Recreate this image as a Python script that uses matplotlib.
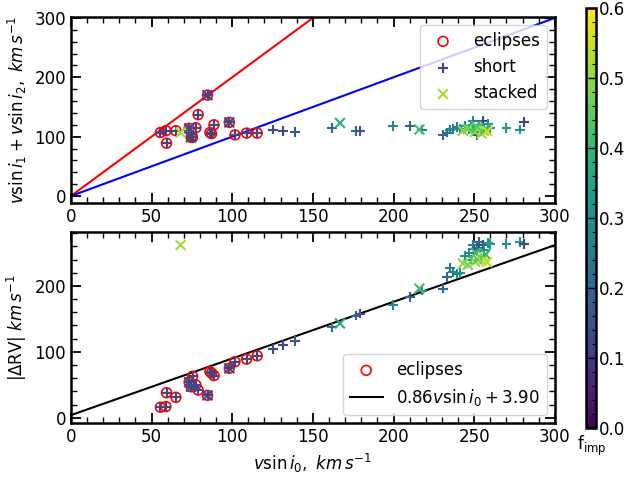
import matplotlib
matplotlib.use("Agg")
from matplotlib import pyplot as plt
from matplotlib.ticker import MultipleLocator
import numpy as np

# eclipsing systems: vsini0, vsini1+vsini2, |dRV|
ecl_v0 = [55.5, 58.9, 59.3, 65.1, 73.3, 74.5, 75.4, 77.5, 78.9, 84.7, 86.2, 87.2, 88.7, 98.2, 101.7, 108.9, 115.5]
ecl_sum = [107, 110, 89, 110, 114, 99, 99, 115, 137, 170, 107, 105, 120, 124, 103, 106, 106]
ecl_drv = [16, 17, 38, 31, 54, 47, 63, 50, 42, 34, 70, 68, 64, 75, 85, 89, 94]

# short-exposure spectra
short_v0 = [55.5, 58.9, 59.3, 65.1, 73.3, 74.5, 75.4, 77.5, 78.9, 84.7, 86.2, 87.2, 88.7, 98.2, 101.7, 108.9, 115.5,
            125.4, 131.6, 139.0, 162.0, 176.5, 179.0, 199.8, 210.2, 217.4,
            230.4, 233.0, 235.0, 237.0, 239.5, 241.0, 244.0, 247.0, 248.0, 249.4, 250.0, 251.5, 252.0, 253.0,
            255.2, 256.0, 258.7, 260.0, 270.0, 278.4, 280.8]
short_sum = [107, 110, 89, 110, 114, 99, 99, 115, 137, 170, 107, 105, 120, 124, 103, 106, 106,
             112, 110, 108, 115, 110, 110, 118, 118, 112,
             103, 107, 112, 113, 116, 113, 118, 113, 116, 127, 110, 102, 108, 120,
             127, 112, 122, 115, 114, 112, 125]
short_drv = [16, 17, 38, 31, 54, 47, 63, 50, 42, 34, 70, 68, 64, 75, 85, 89, 94,
             104, 110, 116, 137, 155, 158, 171, 183, 193,
             196, 213, 227, 221, 218, 220, 245, 250, 240, 262, 256, 258, 253, 266,
             262, 255, 265, 263, 264, 267, 264]
short_f = [0.12, 0.12, 0.12, 0.12, 0.12, 0.12, 0.12, 0.12, 0.12, 0.12, 0.12, 0.12, 0.12, 0.12, 0.12, 0.12, 0.12,
           0.13, 0.13, 0.15, 0.22, 0.2, 0.15, 0.27, 0.18, 0.27,
           0.2, 0.22, 0.25, 0.28, 0.25, 0.3, 0.3, 0.3, 0.32, 0.27, 0.22, 0.15, 0.25, 0.2,
           0.12, 0.3, 0.3, 0.33, 0.3, 0.3, 0.12]

# stacked spectra
stack_v0 = [68.0, 73.3, 74.5, 84.7, 98.2, 166.8, 216.0,
            243.0, 246.0, 250.5, 251.0, 252.0, 254.6, 256.0, 257.0, 258.0]
stack_sum = [107, 114, 99, 170, 124, 123, 112,
             110, 113, 108, 118, 115, 105, 110, 113, 109]
stack_drv = [262, 54, 47, 34, 75, 143, 196,
             234, 232, 237, 250, 240, 239, 244, 248, 236]
stack_f = [0.52, 0.12, 0.12, 0.12, 0.12, 0.38, 0.42,
           0.5, 0.48, 0.5, 0.42, 0.45, 0.52, 0.5, 0.4, 0.55]

# linear fit of |dRV| against vsini0
fit_a = 0.86
fit_b = 3.90

plt.rcParams['font.size'] = 12
plt.rcParams['mathtext.fontset'] = 'dejavusans'

fig = plt.figure(figsize=(6.27, 4.78), dpi=100)
ax1 = fig.add_axes([0.113, 0.575, 0.772, 0.39])
ax2 = fig.add_axes([0.113, 0.115, 0.772, 0.40])
cax = fig.add_axes([0.935, 0.105, 0.016, 0.878])

cmap = plt.get_cmap('viridis')
vmin, vmax = 0.0, 0.6

xx = np.array([0, 300])
ax1.plot([0, 150], [0, 300], color='red', lw=1.5, zorder=1)
ax1.plot(xx, xx, color='blue', lw=1.5, zorder=1)
ax1.scatter(ecl_v0, ecl_sum, s=50, facecolors='none', edgecolors='red', lw=1.2, label='eclipses', zorder=3)
ax1.scatter(short_v0, short_sum, s=50, marker='+', c=short_f, cmap=cmap, vmin=vmin, vmax=vmax, lw=1.5,
            label='short', zorder=4)
ax1.scatter(stack_v0, stack_sum, s=50, marker='x', c=stack_f, cmap=cmap, vmin=vmin, vmax=vmax, lw=1.5,
            label='stacked', zorder=4)
ax1.set_xlim(0, 300)
ax1.set_ylim(-12, 302)
ax1.set_ylabel(r'$v\sin i_1 + v\sin i_2,\ km\,s^{-1}$')
ax1.yaxis.set_major_locator(MultipleLocator(100))
ax1.yaxis.set_minor_locator(MultipleLocator(20))
ax1.legend(loc='upper right', scatterpoints=1, fontsize=12)

ax2.plot(xx, fit_a * xx + fit_b, color='black', lw=1.5, zorder=1,
         label=r'$%.2f v\sin i_0 + %.2f$' % (fit_a, fit_b))
ax2.scatter(ecl_v0, ecl_drv, s=50, facecolors='none', edgecolors='red', lw=1.2, label='eclipses', zorder=3)
ax2.scatter(short_v0, short_drv, s=50, marker='+', c=short_f, cmap=cmap, vmin=vmin, vmax=vmax, lw=1.5, zorder=4)
ax2.scatter(stack_v0, stack_drv, s=50, marker='x', c=stack_f, cmap=cmap, vmin=vmin, vmax=vmax, lw=1.5, zorder=4)
ax2.set_xlim(0, 300)
ax2.set_ylim(-8, 282)
ax2.set_xlabel(r'$v\sin i_0,\ km\,s^{-1}$')
ax2.set_ylabel(r'$|\Delta \mathrm{RV}|\ km\,s^{-1}$')
ax2.yaxis.set_major_locator(MultipleLocator(100))
ax2.yaxis.set_minor_locator(MultipleLocator(20))
h, l = ax2.get_legend_handles_labels()
ax2.legend([h[1], h[0]], [l[1], l[0]], loc='lower right', scatterpoints=1, fontsize=12)

for ax in (ax1, ax2):
    ax.xaxis.set_major_locator(MultipleLocator(50))
    ax.xaxis.set_minor_locator(MultipleLocator(10))
    ax.tick_params(which='both', direction='in', top=True, right=True)
    ax.tick_params(which='major', length=7, width=1.3)
    ax.tick_params(which='minor', length=4, width=1)
    for sp in ax.spines.values():
        sp.set_linewidth(1.8)

sm = plt.cm.ScalarMappable(cmap=cmap, norm=plt.Normalize(vmin, vmax))
cb = fig.colorbar(sm, cax=cax)
cb.set_ticks([0.0, 0.1, 0.2, 0.3, 0.4, 0.5, 0.6])
cb.ax.yaxis.set_minor_locator(MultipleLocator(0.02))
cb.ax.tick_params(which='both', direction='in', pad=2)
cb.ax.tick_params(which='major', length=6, width=1)
cb.ax.tick_params(which='minor', length=3, width=0.8)
cb.outline.set_linewidth(1.8)
cb.ax.set_xlabel(r'$\mathrm{f_{imp}}$')

fig.savefig('out.png', dpi=100)
